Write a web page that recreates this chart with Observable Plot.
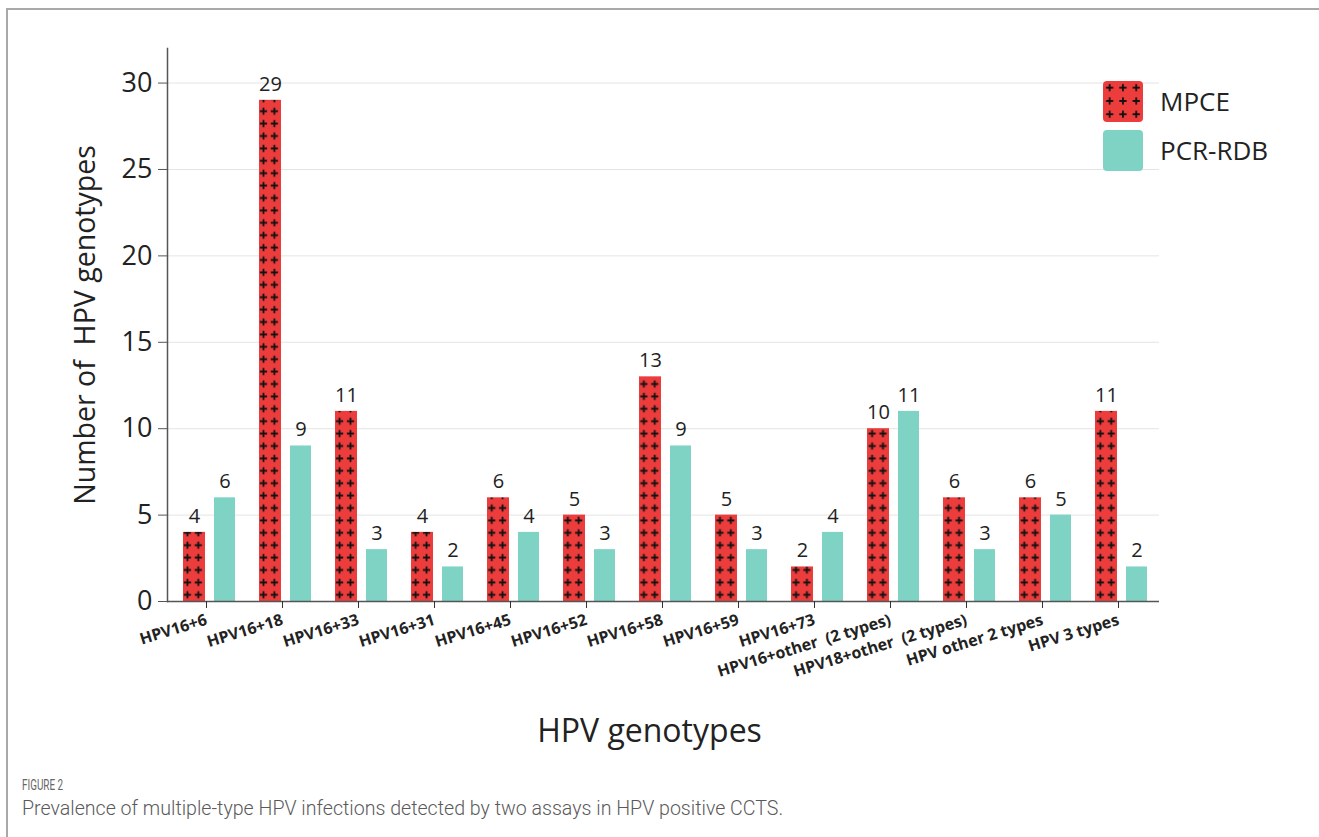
<!DOCTYPE html>
<html><head><meta charset="utf-8">
<script src="https://cdn.jsdelivr.net/npm/d3@7"></script>
<script src="https://cdn.jsdelivr.net/npm/@observablehq/plot@0.6"></script>
<style>
html,body{margin:0;padding:0;background:#fff;}
body{width:1319px;height:837px;position:relative;overflow:hidden;font-family:"Open Sans",sans-serif;}
#frame{position:absolute;left:6px;top:8px;right:-4px;bottom:-4px;border-left:2px solid #a9a9a9;border-top:2px solid #a9a9a9;}
#chart{position:absolute;left:0;top:0;}
#legend{position:absolute;left:1100px;top:78px;}
#figlabel{position:absolute;left:22px;top:776px;font-family:Roboto,sans-serif;font-size:15px;color:#666;transform:scaleX(0.66);transform-origin:left center;white-space:nowrap;}
#caption{position:absolute;left:22px;top:797px;font-family:Roboto,sans-serif;font-weight:300;font-size:19.6px;color:#5a5a5a;white-space:nowrap;}
</style></head><body>
<div id="frame"></div>
<div id="chart"></div>
<div id="legend"></div>
<div id="figlabel">FIGURE 2</div>
<div id="caption">Prevalence of multiple-type HPV infections detected by two assays in HPV positive CCTS.</div>
<script>
const categories = ["HPV16+6","HPV16+18","HPV16+33","HPV16+31","HPV16+45","HPV16+52","HPV16+58","HPV16+59","HPV16+73","HPV16+other\u00a0 (2 types)","HPV18+other\u00a0 (2 types)","HPV other 2 types","HPV 3 types"];
const mpce   = [4, 29, 11, 4, 6, 5, 13, 5, 2, 10, 6, 6, 11];
const pcrRdb = [6,  9,  3, 2, 4, 3,  9, 3, 4, 11, 3, 5,  2];
const seriesNames = ["MPCE", "PCR-RDB"];
const yTicks = [0, 5, 10, 15, 20, 25, 30];
const xTitle = "HPV genotypes";
const yTitle = "Number of\u00a0 HPV genotypes";

const RED = "#ec3c3c", TEAL = "#7fd3c5";
const data = categories.map((c, i) => ({category: c, mpce: mpce[i], pcr: pcrRdb[i]}));

const plot = Plot.plot({
  width: 1319, height: 760,
  marginLeft: 167, marginRight: 160, marginTop: 48, marginBottom: 159,
  style: {fontFamily: "'Open Sans', sans-serif", color: "#222", background: "transparent", overflow: "visible"},
  x: {domain: categories, padding: 0, insetLeft: 3, label: null},
  y: {domain: [0, 32], label: null},
  marks: [
    Plot.gridY(yTicks, {stroke: "#e4e4e4", strokeOpacity: 1}),
    Plot.barY(data, {x: "category", y: "mpce", fill: "url(#plusPattern)", insetLeft: 12, insetRight: 42}),
    Plot.barY(data, {x: "category", y: "pcr", fill: TEAL, insetLeft: 43, insetRight: 12}),
    Plot.text(data, {x: "category", y: "mpce", text: d => String(d.mpce), dx: -15, dy: -16, fontSize: 20, fill: "#222"}),
    Plot.text(data, {x: "category", y: "pcr", text: d => String(d.pcr), dx: 15.5, dy: -16, fontSize: 20, fill: "#222"}),
    Plot.ruleY([0], {stroke: "#555", strokeWidth: 1.5}),
    Plot.frame({anchor: "left", stroke: "#555", strokeWidth: 1.5}),
    Plot.axisY(yTicks, {tickSize: 9, tickPadding: 6, fontSize: 27, label: null, stroke: "#555", fill: "#222"}),
    Plot.axisX({tickSize: 7, tickPadding: 11, dx: -3, tickRotate: -17, fontSize: 16, fontWeight: "bold", label: null, stroke: "#333", fill: "#222"}),
    Plot.text([xTitle], {frameAnchor: "bottom", lineAnchor: "middle", dx: -14, dy: 130, fontSize: 32, fill: "#222"}),
    Plot.text([yTitle], {frameAnchor: "left", textAnchor: "middle", rotate: -90, dx: -82, fontSize: 28.5, fill: "#222"})
  ]
});
document.getElementById("chart").appendChild(plot);

// pattern for MPCE bars, phase aligned with the band step
const xs = plot.scale("x");
const step = (xs.range[1] - xs.range[0]) / categories.length;
const y0 = plot.scale("y").apply(0);
const pw = step / 7, ph = 12.4;
const svg = d3.select(plot);
const defs = svg.insert("defs", ":first-child");
function addPattern(defs, id, w, h, ox, oy) {
  const p = defs.append("pattern").attr("id", id).attr("patternUnits", "userSpaceOnUse")
    .attr("width", w).attr("height", h).attr("x", ox).attr("y", oy);
  p.append("rect").attr("width", w).attr("height", h).attr("fill", RED);
  const cx = w / 2, cy = h / 2, a = 3.6;
  p.append("path").attr("d", `M${cx - a},${cy}H${cx + a}M${cx},${cy - a}V${cy + a}`)
    .attr("stroke", "#111").attr("stroke-width", 1.8);
}
addPattern(defs, "plusPattern", pw, ph, xs.range[0] + 12, y0);

// legend
const lg = d3.select("#legend").append("svg").attr("width", 215).attr("height", 100)
  .style("font-family", "'Open Sans', sans-serif");
const ldefs = lg.append("defs");
addPattern(ldefs, "plusLegend", 13.3, 13.3, 3, 3);
const items = [{name: seriesNames[0], fill: "url(#plusLegend)"}, {name: seriesNames[1], fill: TEAL}];
items.forEach((it, i) => {
  const g = lg.append("g").attr("transform", `translate(0,${i * 49})`);
  g.append("rect").attr("x", 3).attr("y", 3).attr("width", 40).attr("height", 41).attr("rx", 4).attr("fill", it.fill);
  g.append("text").attr("x", 60).attr("y", 23.5).attr("dy", "0.35em").attr("font-size", 26).attr("fill", "#222").text(it.name);
});
</script>
</body></html>
